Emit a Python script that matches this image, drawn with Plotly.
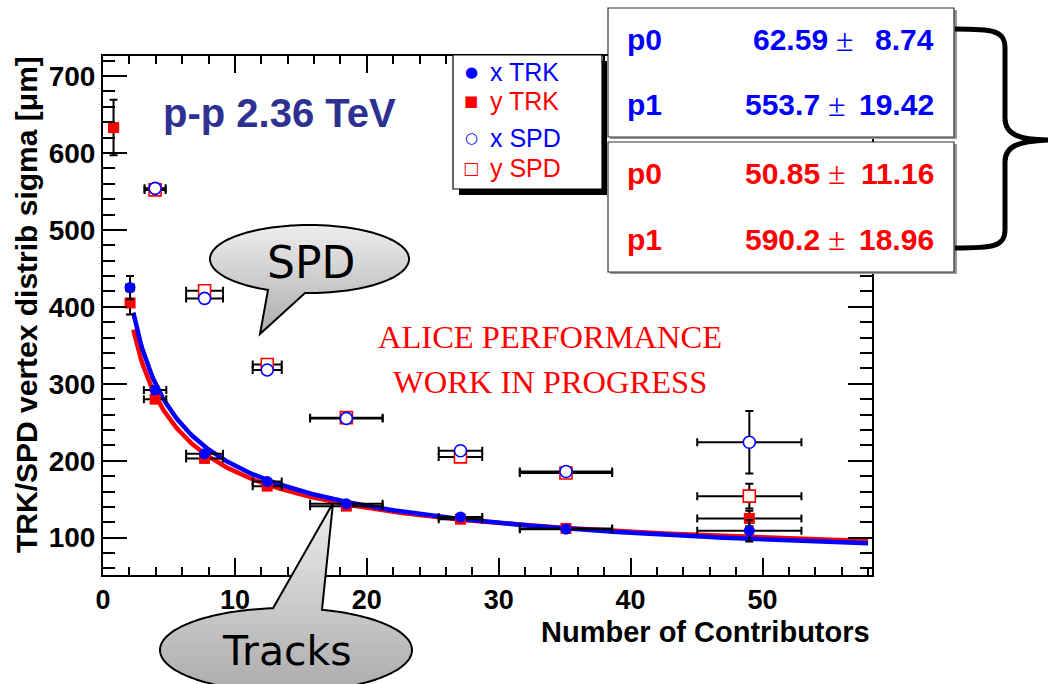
import numpy as np
import plotly.graph_objects as go

# ---------------- data ----------------
# TRK vertexer, x direction (filled circles)
trk_x_n = [2.05, 3.95, 7.7, 12.45, 18.45, 27.1, 35.1, 49.0]
trk_x_sigma = [425, 292, 209, 173, 144, 127, 111, 109]
trk_x_nerr = [0.3, 0.85, 1.4, 1.1, 2.75, 1.65, 3.5, 3.95]
trk_x_serr = [15, 5, 4, 3, 3, 3, 3, 14]

# TRK vertexer, y direction (filled squares)
trk_y_n = [0.8, 2.05, 3.95, 7.7, 12.45, 18.45, 27.1, 35.1, 49.0]
trk_y_sigma = [633, 405, 280, 203, 167, 141, 124, 112, 125]
trk_y_nerr = [0.35, 0.3, 0.85, 1.4, 1.1, 2.75, 1.65, 3.5, 3.95]
trk_y_serr = [36, 15, 5, 4, 3, 3, 3, 3, 10]

# SPD vertexer, x direction (open circles)
spd_x_n = [3.95, 7.7, 12.45, 18.45, 27.1, 35.1, 49.0]
spd_x_sigma = [554, 411, 318, 255, 213, 186, 224]
spd_x_nerr = [0.8, 1.4, 1.1, 2.75, 1.65, 3.5, 3.95]
spd_x_serr = [5, 5, 4, 4, 4, 4, 40.5]

# SPD vertexer, y direction (open squares)
spd_y_n = [3.95, 7.7, 12.45, 18.45, 27.1, 35.1, 49.0]
spd_y_sigma = [552, 421, 325, 256, 205, 184, 154]
spd_y_nerr = [0.8, 1.4, 1.1, 2.75, 1.65, 3.5, 3.95]
spd_y_serr = [5, 5, 4, 4, 4, 4, 16]

# fit results sigma(N) = sqrt(p0^2 + p1^2 / N)
fit_names = ["p0", "p1"]
fit_a_val = [62.59, 553.7]
fit_a_err = [8.74, 19.42]
fit_b_val = [50.85, 590.2]
fit_b_err = [11.16, 18.96]
fit_n_range = [2.3, 58.0]

x_ticks = [0, 10, 20, 30, 40, 50]
y_ticks = [100, 200, 300, 400, 500, 600, 700]

BLUE = "#0000ff"
RED = "#ff0000"
NAVY = "#2e3192"
FONT = "Liberation Sans"

# ---------------- helpers for decorations (pixel -> paper) ----------------
L, R, T, B = 103, 872, 56, 575


def px(x):
    return (x - L) / (R - L)


def py(y):
    return (B - y) / (B - T)


def path_str(pts, close=True):
    s = "M " + " L ".join(f"{px(x):.5f},{py(y):.5f}" for x, y in pts)
    return s + (" Z" if close else "")


def fit_curve(p0, p1, n):
    return np.sqrt(p0 ** 2 + p1 ** 2 / n)


fig = go.Figure()

# fitted curves
n_grid = np.linspace(fit_n_range[0], fit_n_range[1], 400)
fig.add_trace(go.Scatter(x=n_grid, y=fit_curve(fit_a_val[0], fit_a_val[1], n_grid),
                         mode="lines", line=dict(color=RED, width=4.5), hoverinfo="skip"))
fig.add_trace(go.Scatter(x=n_grid, y=fit_curve(fit_b_val[0], fit_b_val[1], n_grid),
                         mode="lines", line=dict(color=BLUE, width=4.5), hoverinfo="skip"))


def err(arr):
    return dict(type="data", array=arr, color="black", thickness=2, width=4)


# hollow markers are white-filled so the error bars stop at their edge
fig.add_trace(go.Scatter(x=spd_y_n, y=spd_y_sigma, mode="markers", name="y SPD",
                         marker=dict(symbol="square", size=12, color="white", line=dict(width=1.6, color=RED)),
                         error_x=err(spd_y_nerr), error_y=err(spd_y_serr)))
fig.add_trace(go.Scatter(x=spd_x_n, y=spd_x_sigma, mode="markers", name="x SPD",
                         marker=dict(symbol="circle", size=12, color="white", line=dict(width=1.6, color=BLUE)),
                         error_x=err(spd_x_nerr), error_y=err(spd_x_serr)))
fig.add_trace(go.Scatter(x=trk_y_n, y=trk_y_sigma, mode="markers", name="y TRK",
                         marker=dict(symbol="square", size=11, color=RED),
                         error_x=err(trk_y_nerr), error_y=err(trk_y_serr)))
fig.add_trace(go.Scatter(x=trk_x_n, y=trk_x_sigma, mode="markers", name="x TRK",
                         marker=dict(symbol="circle", size=11, color=BLUE),
                         error_x=err(trk_x_nerr), error_y=err(trk_x_serr)))

shapes = []
annotations = []

# ---------------- speech bubbles ----------------


def bubble_polygon(cx, cy, rx, ry, xa, xb, tip, side):
    sgn = 1 if side == "bottom" else -1
    ta = sgn * np.arccos((xa - cx) / rx)
    tb = sgn * np.arccos((xb - cx) / rx)
    ta, tb = sorted([ta, tb])
    ts = np.linspace(-np.pi, np.pi, 241)[:-1]
    pt = lambda t: (cx + rx * np.cos(t), cy + ry * np.sin(t))
    first = [pt(t) for t in ts if t < ta]
    last = [pt(t) for t in ts if t > tb]
    return first + [pt(ta), tip, pt(tb)] + last


def clip_band(poly, y0, y1):
    def half(pts, keep, yc):
        out = []
        n = len(pts)
        for i in range(n):
            a, b = pts[i], pts[(i + 1) % n]
            ia, ib = keep(a[1]), keep(b[1])
            if ia:
                out.append(a)
            if ia != ib:
                t = (yc - a[1]) / (b[1] - a[1])
                out.append((a[0] + t * (b[0] - a[0]), yc))
        return out
    p = half(poly, lambda y: y >= y0, y0)
    if p:
        p = half(p, lambda y: y <= y1, y1)
    return p


def add_bubble(poly, c_top=(238, 238, 238), c_bot=(172, 172, 172), nb=28):
    ys = [p[1] for p in poly]
    ymin, ymax = min(ys), max(ys)
    edges = np.linspace(ymin, ymax, nb + 1)
    for i in range(nb):
        band = clip_band(poly, edges[i] - 0.6, edges[i + 1] + 0.6)
        if len(band) < 3:
            continue
        f = (i + 0.5) / nb
        c = tuple(int(round(c_top[k] + (c_bot[k] - c_top[k]) * f)) for k in range(3))
        shapes.append(dict(type="path", xref="paper", yref="paper", path=path_str(band),
                           fillcolor=f"rgb{c}", line=dict(width=0), layer="above"))
    shapes.append(dict(type="path", xref="paper", yref="paper", path=path_str(poly),
                       fillcolor="rgba(0,0,0,0)", line=dict(color="black", width=2), layer="above"))


add_bubble(bubble_polygon(309.5, 259, 99.5, 34, 305, 268, (260, 334), "bottom"))
add_bubble(bubble_polygon(286, 650, 126, 42, 273, 322, (333, 503), "top"))

annotations.append(dict(text="SPD", x=px(311), y=py(262), xref="paper", yref="paper",
                        showarrow=False, xanchor="center", yanchor="middle",
                        font=dict(family="DejaVu Sans", size=44, color="black")))
annotations.append(dict(text="Tracks", x=px(287), y=py(651), xref="paper", yref="paper",
                        showarrow=False, xanchor="center", yanchor="middle",
                        font=dict(family="DejaVu Sans", size=41, color="black")))

# ---------------- legend box ----------------
shapes.append(dict(type="rect", xref="paper", yref="paper", x0=px(459), x1=px(607), y0=py(61), y1=py(195),
                   fillcolor="black", line=dict(width=0), layer="above"))
shapes.append(dict(type="rect", xref="paper", yref="paper", x0=px(453), x1=px(602), y0=py(55), y1=py(189),
                   fillcolor="white", line=dict(color="black", width=1.2), layer="above"))
legend_items = [("●", "x TRK", BLUE, 72, 15), ("■", "y TRK", RED, 101, 15),
                ("○", "x SPD", BLUE, 138, 15), ("□", "y SPD", RED, 168, 17)]
for glyph, label, col, yy, gs in legend_items:
    annotations.append(dict(text=glyph, x=px(471), y=py(yy), xref="paper", yref="paper", showarrow=False,
                            xanchor="center", yanchor="middle",
                            font=dict(family="DejaVu Sans", size=gs, color=col)))
    annotations.append(dict(text=label, x=px(488), y=py(yy), xref="paper", yref="paper", showarrow=False,
                            xanchor="left", yanchor="middle",
                            font=dict(family=FONT, size=25, color=col)))

# ---------------- fit parameter boxes ----------------
for (y0, y1) in [(8, 137), (142, 272)]:
    shapes.append(dict(type="rect", xref="paper", yref="paper", x0=px(610), x1=px(957), y0=py(y0 + 2), y1=py(y1 + 2),
                       fillcolor="#999999", line=dict(width=0), layer="above"))
    shapes.append(dict(type="rect", xref="paper", yref="paper", x0=px(608), x1=px(954), y0=py(y0), y1=py(y1),
                       fillcolor="white", line=dict(color="#333333", width=1.2), layer="above"))

rows = [(fit_names[0], fit_a_val[0], fit_a_err[0], BLUE, 40),
        (fit_names[1], fit_a_val[1], fit_a_err[1], BLUE, 105),
        (fit_names[0], fit_b_val[0], fit_b_err[0], RED, 173),
        (fit_names[1], fit_b_val[1], fit_b_err[1], RED, 239)]
for name, val, e, col, yy in rows:
    shift = 8 if e < 10 else 0
    annotations.append(dict(text=name, x=px(625), y=py(yy), xref="paper", yref="paper", showarrow=False,
                            xanchor="left", yanchor="middle",
                            font=dict(family=FONT, size=30, color=col, weight="bold")))
    annotations.append(dict(text=f"{val:g}", x=px(822 + shift), y=py(yy), xref="paper", yref="paper",
                            showarrow=False, xanchor="right", yanchor="middle",
                            font=dict(family=FONT, size=30, color=col, weight="bold")))
    annotations.append(dict(text="±", x=px(837 + shift), y=py(yy), xref="paper", yref="paper",
                            showarrow=False, xanchor="center", yanchor="middle",
                            font=dict(family="Liberation Serif", size=32, color=col)))
    annotations.append(dict(text=f"{e:.2f}", x=px(936), y=py(yy), xref="paper", yref="paper",
                            showarrow=False, xanchor="right", yanchor="middle",
                            font=dict(family=FONT, size=30, color=col, weight="bold")))

# curly brace grouping the two boxes
brace = ("M {a} C {b} {c} {d} L {e} C {f} {g} {h} "
         "C {i} {j} {k} L {l} C {m} {n} {o}")
bp = lambda x, y: f"{px(x):.5f},{py(y):.5f}"
shapes.append(dict(type="path", xref="paper", yref="paper", layer="above",
                   path=brace.format(a=bp(955, 29), b=bp(992, 29), c=bp(1005, 30), d=bp(1005, 48),
                                     e=bp(1005, 118), f=bp(1005, 134), g=bp(1018, 140), h=bp(1050, 140),
                                     i=bp(1018, 141), j=bp(1005, 146), k=bp(1005, 162),
                                     l=bp(1005, 230), m=bp(1005, 247), n=bp(992, 248), o=bp(955, 248)),
                   fillcolor="rgba(0,0,0,0)", line=dict(color="black", width=5)))

# ---------------- text labels ----------------
annotations.append(dict(text="p-p 2.36 TeV", x=px(161), y=py(113), xref="paper", yref="paper",
                        showarrow=False, xanchor="left", yanchor="middle",
                        font=dict(family=FONT, size=40, color=NAVY, weight="bold")))
annotations.append(dict(text="ALICE PERFORMANCE", x=px(550), y=py(337), xref="paper", yref="paper",
                        showarrow=False, xanchor="center", yanchor="middle",
                        font=dict(family="Liberation Serif", size=32.5, color=RED)))
annotations.append(dict(text="WORK IN PROGRESS", x=px(550), y=py(382), xref="paper", yref="paper",
                        showarrow=False, xanchor="center", yanchor="middle",
                        font=dict(family="Liberation Serif", size=32.5, color=RED)))
annotations.append(dict(text="Number of Contributors", x=px(872), y=py(632), xref="paper", yref="paper",
                        showarrow=False, xanchor="right", yanchor="middle",
                        font=dict(family=FONT, size=29, color="black", weight="bold")))
annotations.append(dict(text="TRK/SPD vertex distrib sigma [μm]", x=px(26), y=py(305), xref="paper",
                        yref="paper", showarrow=False, xanchor="center", yanchor="middle", textangle=-90,
                        font=dict(family=FONT, size=30, color="black", weight="bold")))

axis_common = dict(showline=True, linecolor="black", linewidth=2, mirror="ticks", ticks="inside",
                   tickcolor="black", tickwidth=2, showgrid=False, zeroline=False)

fig.update_xaxes(range=[0, 58.3], tickvals=x_ticks, ticklen=17,
                 tickfont=dict(family=FONT, size=27, color="black", weight="bold"),
                 minor=dict(dtick=2, tick0=0, ticklen=8, ticks="inside", tickcolor="black", tickwidth=2),
                 **axis_common)
fig.update_yaxes(range=[51.5, 726], tickvals=y_ticks, ticklen=24,
                 tickfont=dict(family=FONT, size=28, color="black", weight="bold"),
                 minor=dict(dtick=20, tick0=0, ticklen=12, ticks="inside", tickcolor="black", tickwidth=2),
                 **axis_common)

fig.update_layout(width=1048, height=684, margin=dict(l=L, r=1048 - R, t=T, b=684 - B),
                  showlegend=False, plot_bgcolor="white", paper_bgcolor="white",
                  shapes=shapes, annotations=annotations)

fig.write_html("out.html")
